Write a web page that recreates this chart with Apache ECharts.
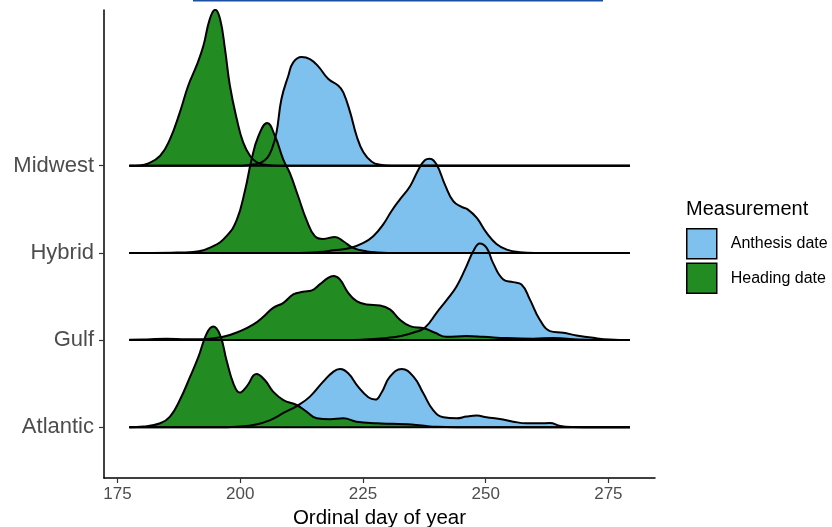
<!DOCTYPE html>
<html><head><meta charset="utf-8">
<script src="https://cdn.jsdelivr.net/npm/echarts@6/dist/echarts.min.js"></script>
<style>html,body{margin:0;padding:0;background:#fff}#c{width:832px;height:527px}</style>
</head><body><div id="c"></div>
<script>
// Categories (bottom to top), measurements, ticks
const regions = ['Atlantic', 'Gulf', 'Hybrid', 'Midwest'];
const measurements = ['Anthesis date', 'Heading date'];
const xTicks = [175, 200, 225, 250, 275];
const dayRange = [177.4, 279.4];

// Scaled densities [day, height in ridge units]
const midwestAnthesis = [[177.4,0],[199,0],[202,0.01],[204,0.03],[205.5,0.09],[206.5,0.2],[207.4,0.383],[208.4,0.765],[209.8,1.032],[210.8,1.186],[212.5,1.247],[214.2,1.223],[215.9,1.14],[217.9,0.998],[220,0.917],[221,0.842],[222.4,0.612],[223.7,0.344],[225.1,0.154],[226.8,0.046],[228.5,0.011],[231,0],[279.4,0]];
const midwestHeading = [[177.4,0],[179.5,0.004],[181,0.02],[183.7,0.115],[185.7,0.306],[187.7,0.612],[189.4,0.917],[191.1,1.147],[192.5,1.376],[193.8,1.682],[194.9,1.789],[195.9,1.682],[196.9,1.338],[197.9,0.917],[199.3,0.535],[200.6,0.268],[202,0.115],[203.4,0.038],[205,0.01],[208,0],[279.4,0]];
const hybridAnthesis = [[177.4,0],[212,0],[216,0.01],[219,0.03],[222.4,0.057],[225.1,0.115],[227.1,0.192],[229.1,0.325],[230.8,0.478],[232.5,0.611],[234.6,0.765],[236.3,0.955],[237.6,1.063],[238.6,1.081],[240,1.013],[241.7,0.783],[243.4,0.593],[245.1,0.528],[246.4,0.497],[248.2,0.401],[250.2,0.229],[252.2,0.103],[254.3,0.038],[257,0.008],[260,0],[279.4,0]];
const hybridHeading = [[177.4,0],[186,0.003],[190.4,0.011],[194.5,0.077],[197.2,0.192],[199.3,0.378],[201,0.722],[202.3,1.067],[203.7,1.338],[205.5,1.491],[207.1,1.338],[208.8,1.067],[210.1,0.917],[211.8,0.65],[213.5,0.378],[215.2,0.192],[216.9,0.161],[219.3,0.183],[221,0.134],[223,0.057],[225.8,0.017],[228,0.006],[232,0],[279.4,0]];
const gulfAnthesis = [[177.4,0],[222,0],[226,0.01],[230,0.025],[233,0.05],[235.5,0.09],[237.6,0.141],[240,0.313],[242.4,0.485],[244.1,0.619],[245.8,0.811],[247.5,1.021],[248.8,1.109],[250.2,1.058],[251.5,0.886],[253.6,0.696],[255.6,0.665],[257.3,0.639],[259,0.467],[261,0.237],[263.1,0.103],[265.8,0.084],[268.5,0.054],[271.9,0.026],[275.3,0.006],[279.4,0]];
const gulfHeading = [[177.4,0.003],[181,0.008],[185,0.015],[189,0.01],[192.5,0.011],[196.5,0.038],[200,0.103],[202.7,0.18],[204.7,0.267],[206.7,0.37],[208.8,0.428],[210.8,0.524],[212.8,0.554],[214.6,0.57],[216.2,0.639],[217.9,0.714],[219,0.734],[220.3,0.696],[222,0.542],[223.7,0.447],[225.8,0.409],[228.5,0.398],[230.5,0.352],[232.5,0.237],[234.6,0.161],[237.6,0.134],[239.7,0.084],[242,0.038],[246.1,0.046],[249.5,0.038],[254.3,0.023],[259.7,0.017],[263.8,0.023],[269,0.006],[275,0.001],[279.4,0]];
const atlanticAnthesis = [[177.4,0],[195,0],[200,0.01],[203,0.03],[206,0.08],[209,0.17],[211.8,0.252],[214.2,0.352],[216.9,0.524],[219,0.639],[220.3,0.669],[222,0.619],[224,0.467],[226.1,0.344],[227.5,0.318],[228.8,0.4],[230.5,0.581],[232.9,0.669],[235.3,0.581],[237.3,0.39],[239.3,0.198],[241.4,0.115],[244.1,0.103],[246.1,0.123],[248.2,0.134],[250.2,0.115],[252.9,0.095],[255.6,0.065],[258.3,0.046],[261,0.046],[263.1,0.049],[265.2,0.015],[268,0.003],[272,0],[279.4,0]];
const atlanticHeading = [[177.4,0],[180.3,0.008],[183.7,0.046],[185.7,0.123],[187.7,0.313],[189.8,0.581],[191.5,0.811],[193.2,1.078],[194.5,1.155],[195.9,1.058],[197.2,0.772],[198.6,0.505],[199.9,0.398],[201.3,0.467],[203.3,0.611],[205,0.542],[206.7,0.409],[208.8,0.313],[211.5,0.256],[213.5,0.18],[215.6,0.103],[218.3,0.092],[221,0.103],[223.7,0.065],[227.8,0.046],[231,0.04],[234,0.035],[237,0.02],[240,0.005],[244,0],[279.4,0]];

const densities = {
  Midwest: [midwestAnthesis, midwestHeading],
  Hybrid: [hybridAnthesis, hybridHeading],
  Gulf: [gulfAnthesis, gulfHeading],
  Atlantic: [atlanticAnthesis, atlanticHeading]
};
const fills = ['#7EC0EE', '#228B22'];

const series = [];
// draw from top ridge to bottom ridge so lower ridges sit in front
for (let r = regions.length - 1; r >= 0; r--) {
  const name = regions[r];
  const base = r + 1;
  densities[name].forEach((d, m) => {
    series.push({
      type: 'line', name: measurements[m],
      data: d.map(p => [p[0], base + p[1]]),
      smooth: 0.45, symbol: 'none', silent: true,
      color: fills[m], itemStyle: { color: fills[m] },
      lineStyle: { color: '#000', width: 2 },
      areaStyle: { color: fills[m], opacity: 1, origin: base }
    });
  });
  series.push({
    type: 'line', name: name + ' baseline',
    data: [[dayRange[0], base], [dayRange[1], base]],
    symbol: 'none', silent: true,
    lineStyle: { color: '#000', width: 2 }
  });
}

const chart = echarts.init(document.getElementById('c'), null, { renderer: 'canvas' });
chart.setOption({
  animation: false,
  textStyle: { fontFamily: 'Liberation Sans, Arial, sans-serif' },
  grid: { left: 104, right: 177, top: 10, bottom: 49, containLabel: false, outerBoundsMode: 'none' },
  title: {
    text: 'Measurement', left: 686, top: 199, padding: 0,
    textStyle: { fontSize: 20, fontWeight: 'normal', color: '#000', fontFamily: 'Liberation Sans, Arial, sans-serif' }
  },
  legend: {
    orient: 'vertical', left: 686, top: 228, padding: 0,
    itemWidth: 30, itemHeight: 30, itemGap: 3, icon: 'rect', selectedMode: false,
    data: measurements,
    itemStyle: { borderColor: '#000', borderWidth: 1.5 },
    textStyle: { fontSize: 16, color: '#000', padding: [0, 0, 0, 9] }
  },
  xAxis: {
    type: 'value', min: 172.25, max: 284.5,
    name: 'Ordinal day of year', nameLocation: 'middle', nameGap: 30,
    nameTextStyle: { color: '#000', fontSize: 20.5 },
    axisLine: { show: true, lineStyle: { color: '#000', width: 1.5 } },
    axisTick: { show: true, customValues: xTicks, length: 5, lineStyle: { color: '#333', width: 1.2 } },
    axisLabel: { customValues: xTicks, color: '#4D4D4D', fontSize: 17, margin: 8 },
    splitLine: { show: false }
  },
  yAxis: {
    type: 'value', min: 0.4186, max: 5.786,
    axisLine: { show: true, lineStyle: { color: '#000', width: 1.5 } },
    axisTick: { show: true, customValues: [1, 2, 3, 4], length: 5, lineStyle: { color: '#333', width: 1.2 } },
    axisLabel: { customValues: [1, 2, 3, 4], color: '#4D4D4D', fontSize: 22, margin: 10,
      formatter: v => regions[Math.round(v) - 1] },
    splitLine: { show: false }
  },
  graphic: [{ type: 'rect', shape: { x: 193, y: 0, width: 410, height: 1.5 }, style: { fill: '#1A4FA3' }, silent: true }],
  series: series
});
</script>
</body></html>
